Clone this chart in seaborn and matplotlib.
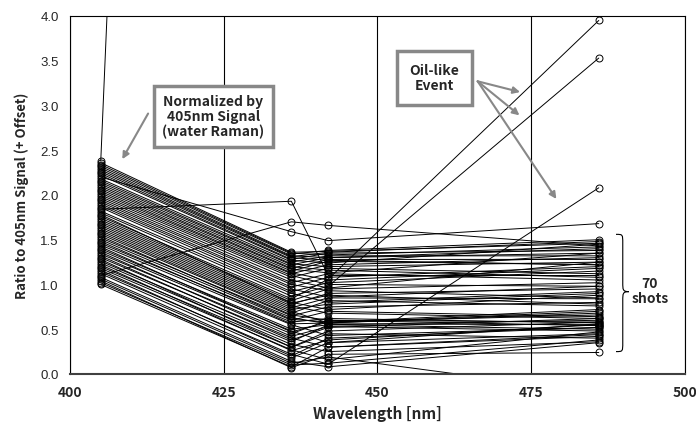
import pandas as pd
import seaborn as sns
import matplotlib.pyplot as plt
from matplotlib.path import Path
from matplotlib.patches import PathPatch

###############
## Data ##
###############

wavelengths = [405, 436, 442, 486]

# ratio to 405nm signal + offset, one entry per shot (70 shots)
v405 = [1.00, 1.02, 1.04, 1.06, 1.08, 1.10, 1.12, 1.14, 1.16, 1.18,
        1.20, 1.22, 1.24, 1.26, 1.28, 1.30, 1.32, 1.34, 1.36, 1.38,
        1.40, 1.42, 1.44, 1.46, 1.48, 1.50, 1.52, 1.54, 1.56, 1.58,
        1.60, 1.62, 1.64, 1.66, 1.68, 1.70, 1.72, 1.74, 1.76, 1.78,
        1.80, 1.82, 1.84, 1.86, 1.88, 1.90, 1.92, 1.94, 1.96, 1.98,
        2.00, 2.02, 2.04, 2.06, 2.08, 2.10, 2.12, 2.14, 2.16, 2.18,
        2.20, 2.22, 2.24, 2.26, 2.28, 2.30, 2.32, 2.34, 2.36, 2.38]
v436 = [0.08, 0.10, 0.07, 0.12, 0.14, 1.70, 0.18, 0.22, 0.20, 0.27,
        0.30, 0.26, 0.33, 0.36, 0.30, 0.40, 0.38, 0.45, 0.42, 0.48,
        0.50, 0.47, 0.55, 0.58, 0.56, 0.60, 0.63, 0.61, 0.65, 0.66,
        0.68, 0.70, 0.72, 0.74, 0.76, 0.78, 0.80, 0.82, 0.84, 0.79,
        0.87, 0.90, 1.93, 0.92, 0.95, 0.97, 1.00, 1.02, 1.05, 1.08,
        1.10, 1.12, 1.13, 1.15, 1.17, 1.18, 1.20, 1.22, 1.23, 1.25,
        1.59, 1.27, 1.28, 1.30, 1.31, 1.32, 1.34, 1.35, 1.36, 52.0]
v442 = [0.30, 0.12, 0.22, 0.19, 0.08, 1.66, 0.35, 0.11, 0.40, 0.16,
        0.45, 0.38, 0.25, 0.55, 0.48, 0.30, 0.52, 0.60, 0.53, 0.35,
        0.55, 0.58, 0.43, 0.62, 0.57, 0.70, 0.56, 0.58, 0.75, 0.60,
        0.82, 0.57, 0.78, 0.85, 0.68, 0.90, 0.72, 0.95, 1.06, 0.88,
        0.98, 0.80, 1.10, 1.02, 0.86, 1.08, 0.93, 1.12, 0.96, 1.18,
        1.00, 1.22, 1.05, 1.26, 1.13, 1.28, 1.16, 1.30, 1.20, 1.32,
        1.49, 1.24, 1.35, 1.27, 1.36, 1.30, 1.38, 1.33, 1.37, 58.0]
v487 = [0.42, 0.38, 0.24, -0.21, 0.35, 1.43, 0.45, 2.08, 0.52, 0.47,
        0.40, 0.55, 0.36, 0.50, 0.58, 0.44, 0.62, 0.54, 0.48, 0.56,
        0.60, 0.66, 0.52, 0.57, 0.70, 0.64, 0.55, 0.72, 0.80, 0.58,
        0.76, 0.68, 0.90, 0.84, 0.62, 0.95, 0.88, 1.02, 3.95, 0.78,
        3.53, 0.92, 1.10, 1.15, 0.98, 1.20, 0.85, 1.05, 1.25, 1.12,
        0.98, 1.30, 1.18, 1.22, 1.35, 1.28, 1.08, 1.40, 1.25, 1.32,
        1.68, 1.45, 1.38, 1.22, 1.48, 1.35, 1.50, 1.42, 1.46, 47.0]

df = pd.DataFrame({'shot': range(len(v405)),
                   wavelengths[0]: v405, wavelengths[1]: v436,
                   wavelengths[2]: v442, wavelengths[3]: v487})
long_df = df.melt(id_vars='shot', var_name='wavelength', value_name='ratio')
long_df['wavelength'] = long_df['wavelength'].astype(float)

##########
## Plot ##
##########

sns.set_style('white')
plt.rcParams['font.family'] = ['Liberation Sans', 'DejaVu Sans']
bold_font = ['Noto Sans CJK JP', 'DejaVu Sans']

fig = plt.figure(figsize=(6.96, 4.31), dpi=100)
ax = fig.add_axes([0.1006, 0.130, 0.8834, 0.8306])

sns.lineplot(data=long_df, x='wavelength', y='ratio', units='shot',
             estimator=None, color='black', lw=0.7,
             marker='o', markersize=5, markerfacecolor='none',
             markeredgecolor='black', markeredgewidth=0.7, legend=False, ax=ax)

ax.set_xlim(400, 500)
ax.set_ylim(0, 4.0)
ax.set_xticks([400, 425, 450, 475, 500])
ax.set_yticks([0.0, 0.5, 1.0, 1.5, 2.0, 2.5, 3.0, 3.5, 4.0])
ax.set_yticklabels([f'{t:.1f}' for t in ax.get_yticks()], fontsize=9.5)
ax.set_xticklabels(['400', '425', '450', '475', '500'],
                   family=bold_font, fontweight='bold', fontsize=10)
ax.tick_params(axis='y', direction='in', length=4, width=0.8, color='black', pad=8)
ax.tick_params(axis='x', length=0, pad=8)
ax.xaxis.grid(True, color='black', lw=0.8)
ax.yaxis.grid(False)
for s in ax.spines.values():
    s.set_color('black')
    s.set_linewidth(0.8)
ax.spines['bottom'].set_linewidth(1.5)
ax.spines['bottom'].set_color('#404040')

ax.set_xlabel('Wavelength [nm]', family=bold_font, fontweight='bold', fontsize=11, labelpad=4)
ax.set_ylabel('Ratio to 405nm Signal (+ Offset)', family=bold_font, fontweight='bold',
              fontsize=9.5, labelpad=8)

# annotation boxes
arrow = dict(arrowstyle='-|>', color='#888888', lw=1.5, mutation_scale=10, shrinkA=0, shrinkB=0)

ax.text(423.3, 2.88, 'Normalized by\n405nm Signal\n(water Raman)', ha='center', va='center',
        family=bold_font, fontweight='bold', fontsize=10, linespacing=1.1, zorder=5,
        bbox=dict(boxstyle='square,pad=0.6', fc='white', ec='#888888', lw=2.5))
ax.annotate('', xy=(408.5, 2.40), xytext=(412.7, 2.91), arrowprops=arrow, zorder=5)

ax.text(459.3, 3.31, 'Oil-like\nEvent', ha='center', va='center',
        family=bold_font, fontweight='bold', fontsize=10, linespacing=1.1, zorder=5,
        bbox=dict(boxstyle='square,pad=0.9', fc='white', ec='#888888', lw=2.5))
for tip in [(473.2, 3.15), (473.1, 2.89), (479.1, 1.955)]:
    ax.annotate('', xy=tip, xytext=(466.3, 3.27), arrowprops=arrow, zorder=5)

# curly brace for the 70 shots
x0, x1, xt = 488.8, 489.9, 490.9
yt, yb, ym = 1.56, 0.25, 0.92
verts = [(x0, yt),
         (x1, yt), (x1, yt), (x1, yt - 0.1),
         (x1, ym + 0.1),
         (x1, ym + 0.02), (x1, ym), (xt, ym),
         (x1, ym), (x1, ym - 0.02), (x1, ym - 0.1),
         (x1, yb + 0.1),
         (x1, yb), (x1, yb), (x0, yb)]
codes = [Path.MOVETO,
         Path.CURVE4, Path.CURVE4, Path.CURVE4,
         Path.LINETO,
         Path.CURVE4, Path.CURVE4, Path.CURVE4,
         Path.CURVE4, Path.CURVE4, Path.CURVE4,
         Path.LINETO,
         Path.CURVE4, Path.CURVE4, Path.CURVE4]
ax.add_patch(PathPatch(Path(verts, codes), fc='none', ec='black', lw=0.8))
ax.text(494.3, 0.93, '70\nshots', ha='center', va='center', family=bold_font,
        fontweight='bold', fontsize=10, linespacing=1.1)

plt.savefig('out.png', dpi=100)
